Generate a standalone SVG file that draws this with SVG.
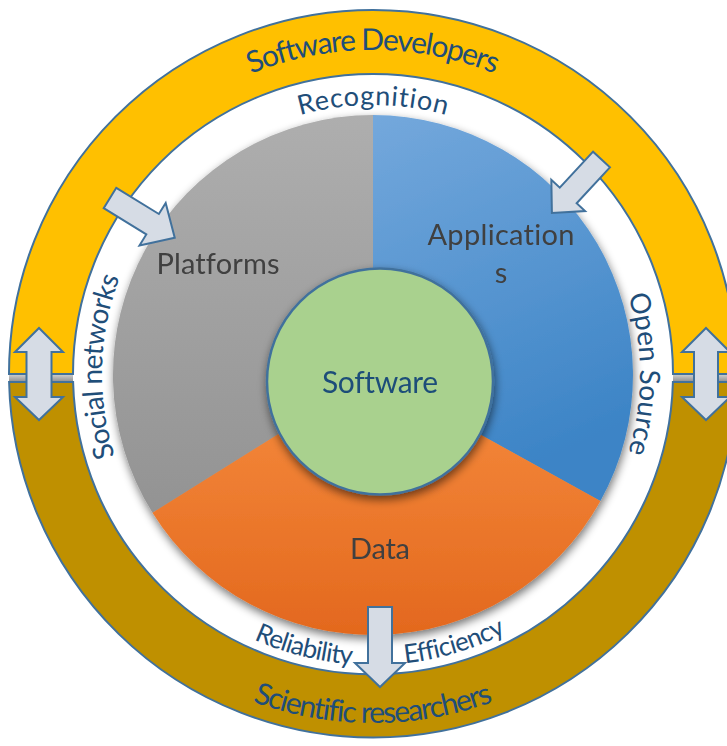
<svg xmlns="http://www.w3.org/2000/svg" width="727" height="746" viewBox="0 0 727 746">
<defs>
<style>
text{font-variant-ligatures:none}
.rt{font-family:Lato,"Liberation Sans",sans-serif;fill:#1F4E79}
.pt{font-family:Lato,"Liberation Sans",sans-serif;fill:#404040;font-size:29px;text-anchor:middle}
.ring{stroke:#41719C;stroke-width:2}
.arrow{fill:#D6DCE5;stroke:#41719C;stroke-width:2;stroke-linejoin:miter}
</style>
<linearGradient id="gGray" x1="0" y1="0" x2="0" y2="1"><stop offset="0" stop-color="#AEAEAE"/><stop offset="1" stop-color="#939393"/></linearGradient>
<linearGradient id="gBlue" x1="0" y1="0" x2="0.3" y2="1"><stop offset="0" stop-color="#74A8DC"/><stop offset="1" stop-color="#3C84C6"/></linearGradient>
<linearGradient id="gOrange" x1="0" y1="0" x2="0" y2="1"><stop offset="0" stop-color="#F68C3E"/><stop offset="1" stop-color="#E3681E"/></linearGradient>
<linearGradient id="gBar" x1="0" y1="0" x2="0" y2="1"><stop offset="0" stop-color="#D2D2D2"/><stop offset="1" stop-color="#8E8E8E"/></linearGradient>
<filter id="sh" x="-15%" y="-15%" width="130%" height="135%">
<feGaussianBlur in="SourceAlpha" stdDeviation="5"/>
<feOffset dx="1" dy="4"/>
<feComponentTransfer><feFuncA type="linear" slope="0.55"/></feComponentTransfer>
<feMerge><feMergeNode/><feMergeNode in="SourceGraphic"/></feMerge>
</filter>
<path id="pDev" d="M49,374 A324,324 0 0,1 697,374"/>
<path id="pRec" d="M104,374 A269,269 0 0,1 642,374"/>
<path id="pSoc" d="M373,645 A271,271 0 0,1 373,103"/>
<path id="pOpen" d="M373,107 A267,267 0 0,1 373,641"/>
<path id="pRel" d="M82,374 A291,291 0 0,0 664,374"/>
<path id="pSci" d="M24,374 A349,349 0 0,0 722,374"/>
</defs>
<rect width="727" height="746" fill="#FFFFFF"/>

<rect x="9" y="374" width="64" height="8" fill="url(#gBar)"/>
<rect x="673" y="374" width="64" height="8" fill="url(#gBar)"/>

<g id="ring-developers">
<path class="ring" fill="#FFC000" d="M9,374 A364,364 0 0,1 737,374 L673,374 A300,300 0 0,0 73,374 Z"/>
<text class="rt" font-size="30"><textPath href="#pDev" startOffset="50%" text-anchor="middle" textLength="250" lengthAdjust="spacing">Software Developers</textPath></text>
</g>
<g id="ring-researchers">
<path class="ring" fill="#BF9000" d="M9.1,382 L73.1,382 A300,300 0 0,0 672.9,382 L736.9,382 A364,364 0 0,1 9.1,382 Z"/>
<text class="rt" font-size="30"><textPath href="#pSci" startOffset="50%" text-anchor="middle" textLength="246" lengthAdjust="spacing">Scientific researchers</textPath></text>
</g>

<g id="label-recognition"><text class="rt" font-size="27"><textPath href="#pRec" startOffset="50%" text-anchor="middle" textLength="148" lengthAdjust="spacing">Recognition</textPath></text></g>
<g id="label-social"><text class="rt" font-size="28"><textPath href="#pSoc" startOffset="433" text-anchor="middle" textLength="182" lengthAdjust="spacing">Social networks</textPath></text></g>
<g id="label-open"><text class="rt" font-size="28"><textPath href="#pOpen" startOffset="50%" text-anchor="middle" textLength="160" lengthAdjust="spacing">Open Source</textPath></text></g>
<g id="label-reliability"><text class="rt" font-size="26"><textPath href="#pRel" startOffset="385" text-anchor="middle" textLength="102" lengthAdjust="spacing">Reliability</textPath></text></g>
<g id="label-efficiency"><text class="rt" font-size="26"><textPath href="#pRel" startOffset="542" text-anchor="middle" textLength="106" lengthAdjust="spacing">Efficiency</textPath></text></g>

<g id="pie" filter="url(#sh)">
<g id="platforms">
<path fill="url(#gGray)" d="M373,375 L373,115 A260,260 0 0,0 152.5,512.8 Z"/>
<text class="pt" x="218" y="274" textLength="123" lengthAdjust="spacing">Platforms</text>
</g>
<g id="applications">
<path fill="url(#gBlue)" d="M373,375 L373,115 A260,260 0 0,1 600.4,501 Z"/>
<text class="pt" x="501" y="245" textLength="147" lengthAdjust="spacing">Application</text>
<text class="pt" x="501" y="283">s</text>
</g>
<g id="data">
<path fill="url(#gOrange)" d="M373,375 L600.4,501 A260,260 0 0,1 152.5,512.8 Z"/>
<text class="pt" x="380" y="559" textLength="60" lengthAdjust="spacing">Data</text>
</g>
</g>

<g id="software" filter="url(#sh)">
<circle cx="380" cy="381.5" r="113" fill="#A9D18E" stroke="#41719C" stroke-width="2.5"/>
<text x="380" y="393" font-family="Lato,'Liberation Sans',sans-serif" font-size="30" fill="#1F4E79" text-anchor="middle" textLength="116" lengthAdjust="spacing">Software</text>
</g>

<g id="connectors">
<polygon class="arrow" points="39,328 63,352 51.5,352 51.5,397 63,397 39,420 15,397 26.5,397 26.5,352 15,352"/>
<polygon class="arrow" points="706,328 730,352 718,352 718,397 730,397 706,420 682,397 694,397 694,352 682,352"/>
<polygon class="arrow" transform="translate(110,198) rotate(31.6)" points="0,-12 50,-12 50,-25 76,0 50,25 50,12 0,12"/>
<polygon class="arrow" transform="translate(601.5,159.5) rotate(132.8)" points="0,-11.5 49,-11.5 49,-23 73,0 49,23 49,11.5 0,11.5"/>
<polygon class="arrow" points="368,607 392,607 392,663 405,663 380,687 355,663 368,663"/>
</g>
</svg>
